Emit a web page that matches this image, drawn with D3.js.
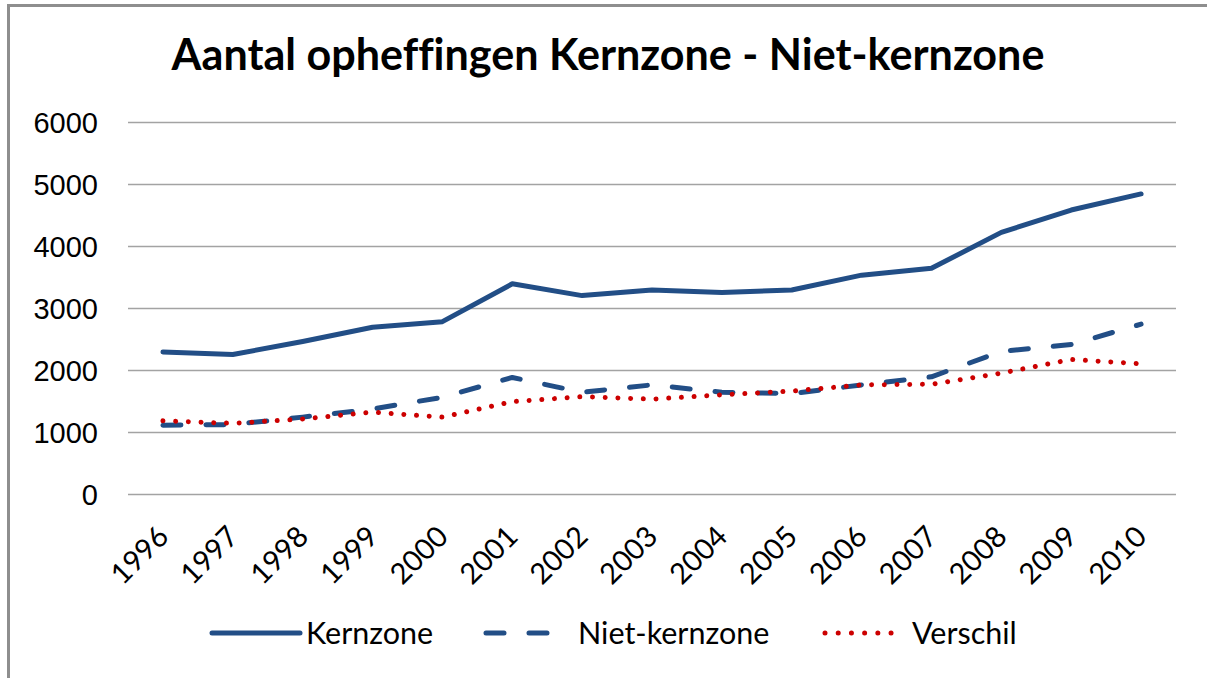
<!DOCTYPE html>
<html lang="nl">
<head>
<meta charset="utf-8"/>
<title>Aantal opheffingen Kernzone - Niet-kernzone</title>
<script src="https://cdn.jsdelivr.net/npm/d3@7"></script>
<style>
  body { margin: 0; background: #fff; overflow: hidden; }
  svg { display: block; font-family: Lato, "Open Sans", sans-serif; }
  .grid line { stroke: #a3a3a3; stroke-width: 1.6; }
  .tick text { fill: #000; font-size: 29px; }
</style>
</head>
<body>
<svg id="chart"></svg>
<script>
// data
const years = ['1996','1997','1998','1999','2000','2001','2002','2003','2004','2005','2006','2007','2008','2009','2010']
const kernzone = [2290, 2250, 2460, 2690, 2780, 3390, 3200, 3290, 3250, 3290, 3530, 3640, 4220, 4580, 4840]
const nietKernzone = [1110, 1120, 1240, 1370, 1560, 1880, 1640, 1760, 1640, 1620, 1760, 1890, 2300, 2410, 2740]
const verschil = [1180, 1140, 1210, 1320, 1240, 1490, 1570, 1530, 1600, 1660, 1760, 1770, 1950, 2170, 2100]
const yTicks = [0, 1000, 2000, 3000, 4000, 5000, 6000]

const width = 1207, height = 678

const svg = d3.select('#chart')
  .attr('width', width)
  .attr('height', height)

// chart area frame, only top and left edges are in view
svg.append('path')
  .attr('d', `M8.5,${height + 10} V5.5 H${width + 10}`)
  .attr('fill', 'none')
  .attr('stroke', '#8e8e8e')
  .attr('stroke-width', 3)

const title = svg.append('text')
  .attr('x', 608).attr('y', 70)
  .attr('text-anchor', 'middle')
  .attr('font-weight', 700)
  .attr('font-size', 39)
  .attr('fill', '#000')
  .style('font-variant-ligatures', 'none')
  .text('Aantal opheffingen Kernzone - Niet-kernzone')
// fit the title to its width in the picture
const tw = title.node().getComputedTextLength()
title.attr('font-size', 39 * 873 / tw)

const x = d3.scalePoint().domain(years).range([128, 1176]).padding(0.5)
const y = d3.scaleLinear().domain([0, 6000]).range([494, 122])

// y gridlines + labels
const yAxis = svg.append('g')
  .attr('class', 'grid')
  .attr('transform', 'translate(128,0)')
  .call(d3.axisLeft(y).tickValues(yTicks).tickSize(-1048).tickPadding(30).tickFormat(d3.format('d')))
yAxis.select('.domain').remove()
yAxis.selectAll('text').attr('dy', '0.36em')

// x labels, rotated
const xAxis = svg.append('g')
  .attr('class', 'xaxis')
  .selectAll('g')
  .data(years)
  .join('g')
  .attr('class', 'tick')
  .attr('transform', d => `translate(${x(d)},531) rotate(-45)`)
xAxis.append('text')
  .attr('text-anchor', 'end')
  .attr('dy', '0.36em')
  .text(d => d)

const line = d3.line()
  .x((d, i) => x(years[i]))
  .y(d => y(d))

const series = [
  { name: 'Kernzone', values: kernzone, color: '#224e86', width: 5, dash: null, legX: [212, 300], textX: 306 },
  { name: 'Niet-kernzone', values: nietKernzone, color: '#224e86', width: 5, dash: '18,25', legX: [486, 556], textX: 578 },
  { name: 'Verschil', values: verschil, color: '#cc0000', width: 5, dash: '0.01,12.7', legX: [825, 904], textX: 912 }
]

series.forEach(s => {
  svg.append('path')
    .datum(s.values)
    .attr('d', line)
    .attr('fill', 'none')
    .attr('stroke', s.color)
    .attr('stroke-width', s.width)
    .attr('stroke-linecap', 'round')
    .attr('stroke-linejoin', 'round')
    .attr('stroke-dasharray', s.dash)
})

// legend
const legend = svg.append('g')
series.forEach(s => {
  legend.append('line')
    .attr('x1', s.legX[0]).attr('x2', s.legX[1])
    .attr('y1', 633).attr('y2', 633)
    .attr('stroke', s.color)
    .attr('stroke-width', s.width)
    .attr('stroke-linecap', 'round')
    .attr('stroke-dasharray', s.name == 'Verschil' ? '0.01,13.2' : s.dash)
  legend.append('text')
    .attr('x', s.textX).attr('y', 633)
    .attr('dy', '0.36em')
    .attr('font-size', 30.5)
    .attr('fill', '#000')
    .text(s.name)
})
</script>
</body>
</html>
